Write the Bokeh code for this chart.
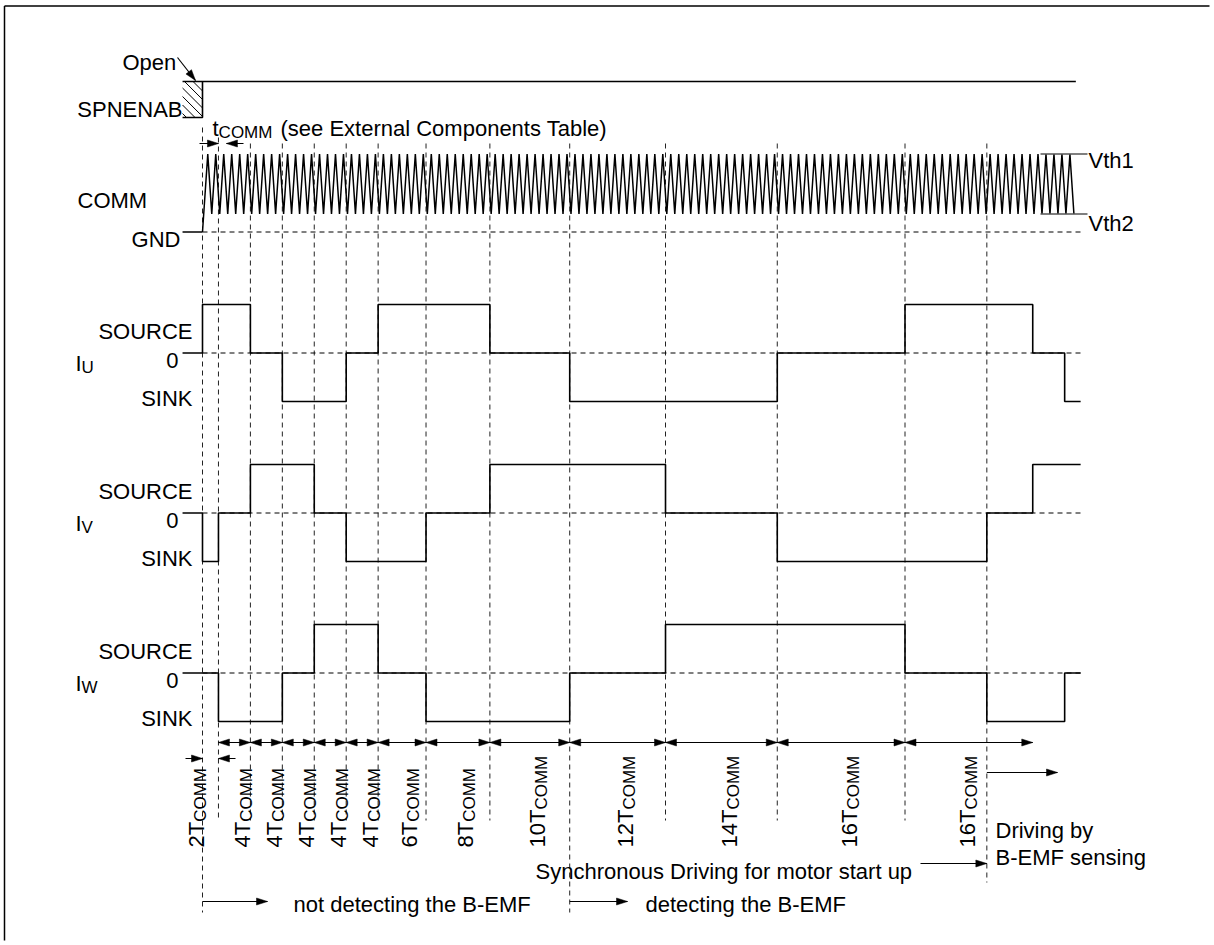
import math
import numpy as np
from bokeh.plotting import figure
from bokeh.models import Range1d, Label, Span
from bokeh.embed import file_html
from bokeh.resources import INLINE

# ---------------- data (times in T_COMM units) ----------------
interval_T = [2, 4, 4, 4, 4, 4, 6, 8, 10, 12, 14, 16, 16]
interval_text = ["2T", "4T", "4T", "4T", "4T", "4T", "6T", "8T", "10T", "12T", "14T", "16T", "16T"]
interval_sub = "COMM"
# six-step drive state at the start of each synchronous interval: +1 SOURCE, 0 off, -1 SINK
iu_sync = [1, 1, 0, -1, -1, 0, 1, 1, 0, -1, -1, 0, 1]
iv_sync = [-1, 0, 1, 1, 0, -1, -1, 0, 1, 1, 0, -1, -1]
iw_sync = [0, -1, -1, 0, 1, 1, 0, -1, -1, 0, 1, 1, 0]
# steps driven by B-EMF sensing
bemf_t = [98.25, 104, 108]
iu_bemf = [1, 0, -1]
iv_bemf = [0, 1, 1]
iw_bemf = [-1, -1, 0]
t_pre = -2.5
t_end = 110.0
# COMM oscillator
comm_period = 1.0
comm_first_peak = 0.66
comm_end = 109.2
vth1, vth2, gnd = 2.6, 0.6, 0.0
spn_end = 109.4

# ---------------- layout ----------------
FIG_W, FIG_H, M = 1214, 945, 0
T0_PX, PX_PER_T = 202.0, 7.983
FONT = "Liberation Sans"
FS = 22
SUB = 17


def tx(px):
    return (px - T0_PX) / PX_PER_T


def ptx(t):
    return T0_PX + t * PX_PER_T


CW = {'0': .556, '1': .556, '2': .556, '4': .556, '6': .556, '8': .556, 'T': .611, 't': .278,
      'I': .278, 'C': .722, 'O': .778, 'M': .833, ' ': .278}


def width(s, size):
    return sum(CW.get(c, .556) for c in s) * size


p = figure(width=FIG_W, height=FIG_H,
           x_range=Range1d(tx(M), tx(M + FIG_W)), y_range=Range1d(M + FIG_H, M),
           output_backend="svg", toolbar_location=None, min_border=0,
           x_axis_location=None, y_axis_location=None)
p.grid.visible = False
p.outline_line_color = None
p.outline_line_alpha = 0
p.background_fill_color = "white"
p.border_fill_color = "white"


def row_range(zero_py, k):
    return Range1d(start=(zero_py - (M + FIG_H)) / k, end=(zero_py - M) / k)


rows = {"iu": 352.5, "iv": 512.5, "iw": 672.5}
p.extra_y_ranges = {"spn": row_range(117, 36), "comm": row_range(231.5, 30),
                    "iu": row_range(rows["iu"], 48.5), "iv": row_range(rows["iv"], 48.5),
                    "iw": row_range(rows["iw"], 48.5)}

edges = list(np.concatenate([[0], np.cumsum(interval_T)]))  # 0 .. 104

# frame border (top & left)
p.segment(x0=[tx(4), tx(4)], y0=[5.5, 5.5], x1=[tx(1230), tx(4)], y1=[5.5, 960],
          line_color="black", line_width=1.5)

# vertical dashed guide lines
vlines = edges[:-1] + [bemf_t[0]]
tops, bots = [], []
for t in vlines:
    tops.append(127 if t == 0 else (137 if t == 2 else 143))
    bots.append(912 if t in (0, 46) else (882 if t == bemf_t[0] else 820))
p.segment(x0=vlines, y0=tops, x1=vlines, y1=bots, line_color="#222222",
          line_width=1, line_dash="5 4")

# ---- SPNENAB ----
p.line([t_pre, spn_end], [1, 1], y_range_name="spn", line_color="black", line_width=1.6)
p.line([t_pre, 0, 0], [0, 0, 1], y_range_name="spn", line_color="black", line_width=1.6)
# hatch of undefined region
bx0, bx1, by0, by1 = ptx(t_pre), ptx(0), 81, 117
hx0, hy0, hx1, hy1 = [], [], [], []
c = bx0 - by1 + 4
while c < bx1 - by0:
    lo, hi = max(bx0, by0 + c), min(bx1, by1 + c)
    if lo < hi:
        hx0.append(tx(lo)); hy0.append(lo - c); hx1.append(tx(hi)); hy1.append(hi - c)
    c += 8.5
p.segment(x0=hx0, y0=hy0, x1=hx1, y1=hy1, line_color="black", line_width=1)

# ---- COMM ----
wx, wy = [0.0], [gnd]
for pk in np.arange(comm_first_peak, comm_end, comm_period):
    wx.append(pk); wy.append(vth1)
    tr = pk + comm_period / 2
    if tr <= comm_end + 1e-9:
        wx.append(tr); wy.append(vth2)
p.line(wx, wy, y_range_name="comm", line_color="black", line_width=1.5)
p.line([t_pre, 0], [gnd, gnd], y_range_name="comm", line_color="black", line_width=1.6)
p.line([0, tx(1080)], [gnd, gnd], y_range_name="comm", line_color="black", line_width=1,
       line_dash="5 4")
p.segment(x0=[tx(1040)] * 2, x1=[tx(1087)] * 2, y0=[vth1, vth2], y1=[vth1, vth2],
          y_range_name="comm", line_color="#555555", line_width=1.3)

# ---- phase currents ----
for name, sync, bemf in (("iu", iu_sync, iu_bemf), ("iv", iv_sync, iv_bemf), ("iw", iw_sync, iw_bemf)):
    xs = [t_pre] + edges[:-1] + bemf_t + [t_end]
    ys = [0] + sync + bemf + [bemf[-1]]
    p.line([0, t_end], [0, 0], y_range_name=name, line_color="black", line_width=1, line_dash="5 4")
    p.step(xs, ys, mode="after", y_range_name=name, line_color="black", line_width=1.6)

# ---- arrows ----
sx0, sy0, sx1, sy1 = [], [], [], []
hxs, hys = [], []


def head(tx_, ty_, ux, uy, L=11, hw=3.5):
    bx, by = tx_ - ux * L, ty_ - uy * L
    nx, ny = -uy, ux
    hxs.append([tx(tx_), tx(bx + nx * hw), tx(bx - nx * hw)])
    hys.append([ty_, by + ny * hw, by - ny * hw])


def arrow(x0, y0, x1, y1, start=False, end=True):
    sx0.append(tx(x0)); sy0.append(y0); sx1.append(tx(x1)); sy1.append(y1)
    d = math.hypot(x1 - x0, y1 - y0)
    ux, uy = (x1 - x0) / d, (y1 - y0) / d
    if end:
        head(x1, y1, ux, uy)
    if start:
        head(x0, y0, -ux, -uy)


arrow(177, 57, 195, 80)
arrow(199, 143, ptx(2), 143)
arrow(243, 143, ptx(3), 143)
arrow(185, 758, ptx(0), 758)
arrow(235, 758, ptx(2), 758)
for a, b in zip(edges[1:-1], edges[2:]):
    arrow(ptx(a), 742, ptx(b), 742, start=True, end=True)
arrow(ptx(0), 901, 267, 901)
arrow(ptx(46), 901, 627, 901)
arrow(920, 863, ptx(bemf_t[0]), 863)
arrow(ptx(bemf_t[0]), 772, 1057, 772)
p.segment(x0=sx0, y0=sy0, x1=sx1, y1=sy1, line_color="black", line_width=1.2)
p.patches(hxs, hys, fill_color="black", line_color="black", line_width=0.5)


# ---- texts ----
def txt(s, px, py, size=FS, align="left", angle=0.0):
    p.add_layout(Label(x=tx(px), y=py, text=s, text_font=FONT, text_font_size=f"{size}px",
                       text_align=align, text_baseline="alphabetic", angle=angle,
                       text_color="black"))


txt("Open", 122, 62)
txt("SPNENAB", 182, 109, align="right")
txt("t", 212, 128)
txt("COMM", 212 + width("t", FS), 132, size=SUB)
txt("(see External Components Table)", 280, 128)
txt("COMM", 77, 200)
txt("GND", 180, 239, align="right")
txt("Vth1", 1088, 160)
txt("Vth2", 1088, 223)
for name, letter in (("iu", "U"), ("iv", "V"), ("iw", "W")):
    z = rows[name]
    txt("SOURCE", 192, z - 29.5 + 7.9, align="right")
    txt("0", 178, z + 7.9, align="right")
    txt("SINK", 192, z + 37.5 + 7.9, align="right")
    txt("I", 75, z + 10)
    txt(letter, 75 + width("I", FS), z + 14, size=SUB)

for (a, b), main in zip(zip(edges[:-1], edges[1:]), interval_text):
    if (b - a) < 4:
        xc = ptx(a) - 14
    else:
        xc = min(ptx((a + b) / 2), ptx(bemf_t[0]) - 27)
    txt(main, xc + 7.9, 847, angle=math.pi / 2)
    txt(interval_sub, xc + 11.9, 847 - width(main, FS), size=SUB, angle=math.pi / 2)

txt("not detecting the B-EMF", 293, 904)
txt("detecting the B-EMF", 645, 904)
txt("Synchronous Driving for motor start up", 535, 871)
txt("Driving by", 995, 830)
txt("B-EMF sensing", 995, 857)

# mask the canvas edges on the right and bottom (the reference frame runs off the page there)
p.add_layout(Span(location=tx(FIG_W), dimension="height", line_color="white", line_width=10,
                  level="overlay"))
p.add_layout(Span(location=FIG_H, dimension="width", line_color="white", line_width=10,
                  level="overlay"))

open("out.html", "w").write(file_html(p, INLINE))
